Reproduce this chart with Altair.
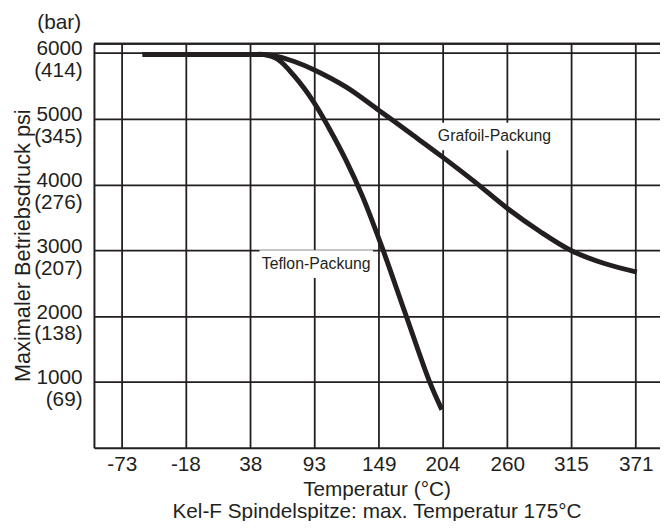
import altair as alt
import pandas as pd

# ---- data -------------------------------------------------------------
temp_ticks = [-73, -18, 38, 93, 149, 204, 260, 315, 371]
psi_ticks = [1000, 2000, 3000, 4000, 5000, 6000]
bar_labels = ["(69)", "(138)", "(207)", "(276)", "(345)", "(414)"]

grafoil_temp = [-55, 0, 40, 50, 62, 76, 93, 121, 149, 177, 204, 232, 260, 288, 316, 344, 372]
grafoil_psi = [5975, 5975, 5975, 5975, 5945, 5870, 5745, 5480, 5130, 4770, 4420, 4040, 3640, 3290, 2990, 2800, 2670]

teflon_temp = [-55, 0, 40, 50, 62, 76, 93, 106, 121, 135, 152, 172, 193, 203.5]
teflon_psi = [5975, 5975, 5975, 5975, 5900, 5650, 5250, 4860, 4360, 3820, 3040, 2040, 1000, 580]

label_names = ["Teflon-Packung", "Grafoil-Packung"]
label_temp = [95, 249]
label_psi = [2790, 4730]

# ---- tables -----------------------------------------------------------
lines = pd.concat([
    pd.DataFrame({"temp": grafoil_temp, "psi": grafoil_psi, "serie": "Grafoil", "order": range(len(grafoil_temp))}),
    pd.DataFrame({"temp": teflon_temp, "psi": teflon_psi, "serie": "Teflon", "order": range(len(teflon_temp))}),
])
labels = pd.DataFrame({"name": label_names, "temp": label_temp, "psi": label_psi})

FONT = "Liberation Sans"
INK = "#231f20"

label_map = ", ".join(
    f"{v}: ['{v}', '{b}']" for v, b in zip(psi_ticks, bar_labels)
)
y_label_expr = f"({{{label_map}}})[datum.value]"

xscale = alt.Scale(domain=[-97, 392], nice=False, zero=False)
yscale = alt.Scale(domain=[0, 6140], nice=False, zero=False)

x_axis = alt.Axis(
    values=temp_ticks,
    labelExpr="datum.value + ''",
    title=["Temperatur (°C)", "Kel-F Spindelspitze: max. Temperatur 175°C"],
    titleFont=FONT, titleFontSize=21, titleFontWeight="normal", titleColor=INK,
    titleLineHeight=23, titleBaseline="alphabetic", titleY=48, titleX=286,
    labelFont=FONT, labelFontSize=21, labelColor=INK, labelPadding=6,
    labelBaseline="top", labelFlush=False, labelOverlap=False,
    ticks=False, tickSize=0,
    grid=True, gridColor=INK, gridWidth=1.8, gridOpacity=1,
    domain=True, domainColor=INK, domainWidth=2,
)
y_axis = alt.Axis(
    values=psi_ticks,
    labelExpr=y_label_expr,
    title="Maximaler Betriebsdruck psi",
    titleFont=FONT, titleFontSize=22, titleFontWeight="normal", titleColor=INK,
    titleAngle=270, titleAlign="center", titleBaseline="alphabetic",
    titleX=-65, titleY=204,
    labelFont=FONT, labelFontSize=21, labelColor=INK, labelPadding=12,
    labelLineHeight=22, labelBaseline="middle", labelOffset=-4, labelAlign="right",
    labelOverlap=False, labelFlush=False,
    ticks=False, tickSize=0,
    grid=True, gridColor=INK, gridWidth=1.8, gridOpacity=1,
    domain=True, domainColor=INK, domainWidth=2,
)

base = alt.Chart(lines)

curves = base.mark_line(
    color=INK, strokeWidth=5, strokeCap="butt", interpolate="catmull-rom"
).encode(
    x=alt.X("temp:Q", scale=xscale, axis=x_axis),
    y=alt.Y("psi:Q", scale=yscale, axis=y_axis),
    detail="serie:N",
    order="order:Q",
)

boxes = alt.Chart(labels).mark_point(
    shape="M-4.1,-1H4.1V1H-4.1Z", size=784, filled=True, color="white",
    opacity=1, strokeWidth=0,
).encode(
    x=alt.X("temp:Q", scale=xscale),
    y=alt.Y("psi:Q", scale=yscale),
)

texts = alt.Chart(labels).mark_text(
    font=FONT, fontSize=16, color=INK, align="center", baseline="middle"
).encode(
    x=alt.X("temp:Q", scale=xscale),
    y=alt.Y("psi:Q", scale=yscale),
    text="name:N",
)

top_frame = alt.Chart(labels).mark_rule(color=INK, strokeWidth=2).encode(
    y=alt.value(0), x=alt.value(0), x2=alt.value(573)
)

bar_unit = alt.Chart(pd.DataFrame({"t": ["(bar)"]})).mark_text(
    font=FONT, fontSize=21, color=INK, align="right", baseline="middle"
).encode(
    x=alt.value(-13), y=alt.value(-21), text="t:N"
)

chart = alt.layer(boxes, texts, curves, top_frame, bar_unit).properties(
    width=573, height=409,
    autosize=alt.AutoSizeParams(type="none"),
    padding={"left": 87, "top": 33, "right": 0, "bottom": 71},
    background="white",
).configure_view(stroke=None)

chart.save("out.html", embed_options={"renderer": "svg", "actions": False})
